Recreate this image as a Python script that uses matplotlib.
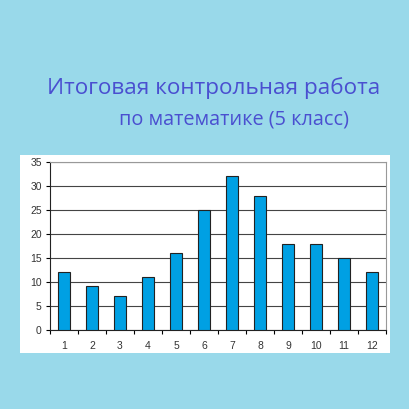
import matplotlib.pyplot as plt
import matplotlib.patches as patches

grades = ['1', '2', '3', '4', '5', '6', '7', '8', '9', '10', '11', '12']
counts = [12, 9.2, 7, 11, 16, 25, 32, 28, 18, 18, 15, 12]
y_ticks = [0, 5, 10, 15, 20, 25, 30, 35]

title_1 = 'Итоговая контрольная работа'
title_2 = 'по математике (5 класс)'

bg = '#99d9ea'
fig = plt.figure(figsize=(4.10, 4.09), dpi=100, facecolor=bg)

## white panel behind the chart
fig.patches.append(patches.Rectangle((20/410, 1-353/409), 370/410, 198/409,
                                     transform=fig.transFigure, facecolor='white',
                                     edgecolor='none', zorder=-10))

fig.text(214/410, 1-88/409, title_1, ha='center', va='center',
         fontsize=16.2, color='#4a4fd0', family='Open Sans')
fig.text(234/410, 1-120/409, title_2, ha='center', va='center',
         fontsize=14.3, color='#4a4fd0', family='Open Sans')

ax = fig.add_axes([50/410, 1-330/409, 336/410, 168/409])
ax.set_facecolor('white')
x = range(len(grades))
ax.bar(x, counts, width=0.42, color='#00a0e3', edgecolor='#222222', linewidth=0.8, zorder=3)
ax.set_ylim(0, 35)
ax.set_xlim(-0.5, len(grades)-0.5)
ax.set_yticks(y_ticks)
ax.set_yticklabels([str(v) for v in y_ticks])
ax.set_xticks(x)
ax.set_xticklabels(grades)
ax.set_xticks([i+0.5 for i in range(-1, len(grades))], minor=True)
ax.tick_params(axis='x', which='major', length=0, pad=8)
ax.tick_params(axis='x', which='minor', length=3, direction='out', width=0.8)
ax.tick_params(axis='y', length=3, width=0.8, pad=3)
for lab in ax.get_xticklabels() + ax.get_yticklabels():
    lab.set_fontsize(7.5)
    lab.set_family('Liberation Sans')
    lab.set_color('#333333')
ax.yaxis.grid(True, color='#444444', linewidth=0.8, zorder=0)
ax.set_axisbelow(True)
for side in ['top', 'right']:
    ax.spines[side].set_color('#999999')
    ax.spines[side].set_linewidth(0.8)
ax.spines['left'].set_color('#222222')
ax.spines['bottom'].set_color('#222222')

fig.savefig('out.png', dpi=100, facecolor=bg)
